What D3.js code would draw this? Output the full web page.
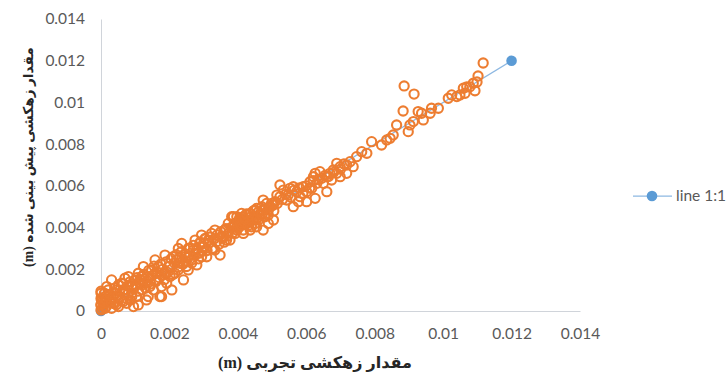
<!DOCTYPE html>
<html>
<head>
<meta charset="utf-8">
<script src="https://cdn.jsdelivr.net/npm/d3@7"></script>
<style>
  html, body { margin: 0; padding: 0; background: #ffffff; }
  svg { display: block; }
</style>
</head>
<body>
<svg id="chart" width="728" height="373"></svg>
<script>
// ---------------- data ----------------
const xTickValues = [0, 0.002, 0.004, 0.006, 0.008, 0.01, 0.012, 0.014];
const xTickLabels = ["0", "0.002", "0.004", "0.006", "0.008", "0.01", "0.012", "0.014"];
const yTickValues = [0, 0.002, 0.004, 0.006, 0.008, 0.01, 0.012, 0.014];
const yTickLabels = ["0", "0.002", "0.004", "0.006", "0.008", "0.01", "0.012", "0.014"];

const xTitle = "مقدار زهکشی تجربی (m)";
const yTitle = "مقدار زهکشی پیش بینی شده (m)";
const legendLabel = "line 1:1";

// 1:1 reference line
const lineX = [0, 0.012];
const lineY = [0, 0.012];

// measured (experimental) vs predicted drainage, m
const measured = [
  0.01117, 0.00886, 0.00915, 0.00883, 0.01102, 0.01099, 0.01088, 0.01078, 0.01069, 0.01059,
  0.01093, 0.01064, 0.01049, 0.01040, 0.01025, 0.01015, 0.00986, 0.00966, 0.00962, 0.00937,
  0.00927, 0.00942, 0.00913, 0.00903, 0.00898, 0.00864, 0.00854, 0.00845, 0.00835, 0.00820,
  0.00791, 0.00777, 0.00762,
  0.00747, 0.00728, 0.00718, 0.00699, 0.00689, 0.00679, 0.00669, 0.00660, 0.00640, 0.00626,
  0.00621, 0.00611, 0.00660, 0.00626, 0.00601, 0.00582, 0.00572, 0.00552, 0.00533, 0.00523,
  0.00509, 0.00494, 0.00474, 0.00465, 0.00445, 0.00426, 0.00406, 0.00397, 0.00387, 0.00416,
  0.00436, 0.00455, 0.00484, 0.00504, 0.00543, 0.00562, 0.00436, 0.00455, 0.00416, 0.00591,
  0.00631, 0.00650, 0.00699, 0.00718, 0.00737, 0.00562, 0.00616, 0.00523, 0.00674, 0.00689,
  0.00645, 0.00601, 0.00577, 0.00547, 0.00514, 0.00474, 0.00489, 0.00451, 0.00397, 0.00387,
  0.00436,
  0.00000, 0.00002, 0.00007, 0.00000, 0.00012, 0.00021, 0.00026, 0.00036, 0.00041, 0.00051,
  0.00056, 0.00065, 0.00070, 0.00075, 0.00080, 0.00090, 0.00095, 0.00099, 0.00104, 0.00109,
  0.00119, 0.00124, 0.00129, 0.00133, 0.00138, 0.00148, 0.00153, 0.00158, 0.00163, 0.00168,
  0.00172, 0.00177, 0.00187, 0.00192, 0.00197, 0.00207, 0.00211, 0.00216, 0.00226, 0.00231,
  0.00236, 0.00241, 0.00246, 0.00255, 0.00260, 0.00265, 0.00275, 0.00280, 0.00284, 0.00294,
  0.00299, 0.00309, 0.00314, 0.00323, 0.00328, 0.00338, 0.00348, 0.00353, 0.00362, 0.00372,
  0.00377, 0.00382, 0.00392, 0.00401, 0.00411, 0.00416, 0.00426, 0.00431, 0.00440, 0.00450,
  0.00460, 0.00470, 0.00474, 0.00479, 0.00489, 0.00499, 0.00504,
  0.00017, 0.00031, 0.00046, 0.00060, 0.00080, 0.00085, 0.00114, 0.00143, 0.00177, 0.00202,
  0.00221, 0.00250, 0.00270, 0.00289, 0.00304, 0.00333, 0.00367, 0.00397, 0.00436, 0.00465,
  0.00000, 0.00000, 0.00012, 0.00031, 0.00051, 0.00065, 0.00109, 0.00138, 0.00177,
  0.00187, 0.00226, 0.00255, 0.00294, 0.00333, 0.00372, 0.00411, 0.00450, 0.00489, 0.00119,
  0.00158, 0.00090, 0.00041,
  0.00000, 0.00000, 0.00005, 0.00010, 0.00020, 0.00015,
  0.00005, 0.00010, 0.00015, 0.00025, 0.00030, 0.00035, 0.00040, 0.00045, 0.00050, 0.00055,
  0.00060, 0.00065, 0.00070, 0.00075, 0.00080, 0.00085, 0.00090, 0.00095, 0.00100, 0.00105,
  0.00110, 0.00115, 0.00120, 0.00125, 0.00130, 0.00135, 0.00140, 0.00145, 0.00150, 0.00155,
  0.00160, 0.00165, 0.00170, 0.00175, 0.00180, 0.00185, 0.00190, 0.00195, 0.00200, 0.00205,
  0.00210, 0.00215, 0.00220, 0.00225, 0.00230, 0.00235, 0.00240, 0.00245, 0.00250, 0.00255,
  0.00260, 0.00265, 0.00270, 0.00275, 0.00280, 0.00285, 0.00290, 0.00295, 0.00300, 0.00305,
  0.00310, 0.00315, 0.00320, 0.00325, 0.00330, 0.00340, 0.00345, 0.00350, 0.00355, 0.00360,
  0.00365, 0.00370, 0.00380, 0.00385, 0.00390, 0.00400, 0.00405, 0.00410, 0.00420, 0.00425,
  0.00430, 0.00440, 0.00445, 0.00455, 0.00460, 0.00470, 0.00480, 0.00485, 0.00495, 0.00505,
  0.00515, 0.00530, 0.00540, 0.00555, 0.00565, 0.00580, 0.00590, 0.00600, 0.00610, 0.00620,
  0.00635, 0.00655, 0.00665, 0.00680, 0.00700, 0.00710
];
const predicted = [
  0.01189, 0.01079, 0.01040, 0.00959, 0.01127, 0.01098, 0.01092, 0.01075, 0.01075, 0.01068,
  0.01056, 0.01044, 0.01036, 0.01028, 0.01036, 0.01020, 0.00972, 0.00972, 0.00948, 0.00948,
  0.00956, 0.00916, 0.00908, 0.00892, 0.00860, 0.00892, 0.00844, 0.00828, 0.00820, 0.00796,
  0.00812, 0.00756, 0.00764,
  0.00740, 0.00716, 0.00700, 0.00692, 0.00708, 0.00676, 0.00660, 0.00644, 0.00668, 0.00660,
  0.00644, 0.00620, 0.00572, 0.00540, 0.00524, 0.00548, 0.00572, 0.00588, 0.00580, 0.00548,
  0.00524, 0.00500, 0.00484, 0.00460, 0.00436, 0.00420, 0.00436, 0.00388, 0.00452, 0.00452,
  0.00468, 0.00492, 0.00516, 0.00508, 0.00532, 0.00500, 0.00388, 0.00404, 0.00372, 0.00596,
  0.00612, 0.00612, 0.00644, 0.00660, 0.00692, 0.00596, 0.00588, 0.00604, 0.00628, 0.00660,
  0.00636, 0.00572, 0.00524, 0.00556, 0.00556, 0.00532, 0.00460, 0.00452, 0.00452, 0.00404,
  0.00428,
  0.00085, 0.00053, 0.00021, 0.00029, 0.00069, 0.00101, 0.00053, 0.00037, 0.00085, 0.00125,
  0.00069, 0.00101, 0.00157, 0.00037, 0.00085, 0.00117, 0.00021, 0.00149, 0.00069, 0.00181,
  0.00101, 0.00213, 0.00133, 0.00053, 0.00165, 0.00197, 0.00101, 0.00245, 0.00149, 0.00213,
  0.00069, 0.00173, 0.00268, 0.00133, 0.00213, 0.00101, 0.00260, 0.00181, 0.00300, 0.00229,
  0.00324, 0.00149, 0.00260, 0.00197, 0.00300, 0.00245, 0.00340, 0.00221, 0.00276, 0.00364,
  0.00308, 0.00260, 0.00340, 0.00372, 0.00300, 0.00332, 0.00268, 0.00356, 0.00388, 0.00420,
  0.00340, 0.00452, 0.00372, 0.00428, 0.00468, 0.00388, 0.00420, 0.00460, 0.00404, 0.00484,
  0.00436, 0.00500, 0.00388, 0.00452, 0.00484, 0.00516, 0.00436,
  0.00117, 0.00149, 0.00101, 0.00133, 0.00165, 0.00053, 0.00133, 0.00117, 0.00117, 0.00165,
  0.00245, 0.00213, 0.00292, 0.00324, 0.00348, 0.00388, 0.00340, 0.00404, 0.00436, 0.00468,
  0.00095, 0.00005, 0.00013, 0.00013, 0.00021, 0.00045, 0.00029, 0.00069, 0.00069,
  0.00181, 0.00197, 0.00260, 0.00260, 0.00292, 0.00372, 0.00420, 0.00420, 0.00420, 0.00165,
  0.00181, 0.00085, 0.00037,
  0.00060, 0.00030, 0.00010, 0.00040, 0.00070, 0.00020,
  0.00045, 0.00085, 0.00055, 0.00080, 0.00040, 0.00065, 0.00110, 0.00030, 0.00075, 0.00100,
  0.00050, 0.00130, 0.00085, 0.00060, 0.00120, 0.00140, 0.00070, 0.00105, 0.00125, 0.00160,
  0.00095, 0.00150, 0.00125, 0.00175, 0.00110, 0.00145, 0.00195, 0.00130, 0.00170, 0.00215,
  0.00140, 0.00185, 0.00160, 0.00225, 0.00200, 0.00150, 0.00235, 0.00185, 0.00215, 0.00250,
  0.00175, 0.00230, 0.00270, 0.00210, 0.00255, 0.00285, 0.00225, 0.00275, 0.00240, 0.00300,
  0.00265, 0.00230, 0.00315, 0.00275, 0.00300, 0.00250, 0.00330, 0.00285, 0.00310, 0.00345,
  0.00290, 0.00325, 0.00355, 0.00300, 0.00345, 0.00365, 0.00320, 0.00380, 0.00350, 0.00330,
  0.00395, 0.00360, 0.00400, 0.00375, 0.00420, 0.00395, 0.00445, 0.00410, 0.00440, 0.00465,
  0.00410, 0.00455, 0.00480, 0.00440, 0.00475, 0.00460, 0.00490, 0.00470, 0.00500, 0.00480,
  0.00515, 0.00535, 0.00560, 0.00545, 0.00580, 0.00590, 0.00565, 0.00600, 0.00590, 0.00625,
  0.00630, 0.00650, 0.00645, 0.00665, 0.00680, 0.00705
];

// ---------------- drawing ----------------
const svg = d3.select("#chart");
const plot = { left: 101, right: 580, top: 19, bottom: 311 };

const x = d3.scaleLinear().domain([0, 0.014]).range([plot.left, plot.right]);
const y = d3.scaleLinear().domain([0, 0.014]).range([plot.bottom, plot.top]);

const tickFont = "Lato, 'Open Sans', sans-serif";
const axisColor = "#D0D4DA";
const textColor = "#595959";

// X axis
const gx = svg.append("g")
  .attr("transform", `translate(0,${plot.bottom})`)
  .call(d3.axisBottom(x).tickValues(xTickValues)
    .tickFormat((d, i) => xTickLabels[i]).tickSize(0).tickPadding(17));
gx.select(".domain").attr("stroke", axisColor).attr("stroke-width", 1);
gx.selectAll("text").attr("fill", textColor).style("font-family", tickFont).style("font-size", "15.5px");

// Y axis
const gy = svg.append("g")
  .attr("transform", `translate(${plot.left},0)`)
  .call(d3.axisLeft(y).tickValues(yTickValues)
    .tickFormat((d, i) => yTickLabels[i]).tickSize(0).tickPadding(16));
gy.select(".domain").attr("stroke", axisColor).attr("stroke-width", 1);
gy.selectAll("text").attr("fill", textColor).style("font-family", tickFont).style("font-size", "15.5px");

// 1:1 line series
const linePts = lineX.map((v, i) => [v, lineY[i]]);
svg.append("path")
  .datum(linePts)
  .attr("d", d3.line().x(d => x(d[0])).y(d => y(d[1])))
  .attr("fill", "none")
  .attr("stroke", "#8DB8E2")
  .attr("stroke-width", 1.25);
svg.append("g").selectAll("circle")
  .data(linePts)
  .join("circle")
  .attr("cx", d => x(d[0]))
  .attr("cy", d => y(d[1]))
  .attr("r", 5.3)
  .attr("fill", "#5B9BD5");

// observed vs predicted scatter
const pts = measured.map((v, i) => [v, predicted[i]]);
svg.append("g").selectAll("circle")
  .data(pts)
  .join("circle")
  .attr("cx", d => x(d[0]))
  .attr("cy", d => y(d[1]))
  .attr("r", 4.6)
  .attr("fill", "none")
  .attr("stroke", "#ED7D31")
  .attr("stroke-width", 2.1);

// Axis titles
const titleFont = "'Liberation Serif', 'DejaVu Sans', serif";
function fitText(sel, target) {
  const len = sel.node().getComputedTextLength();
  const fs = parseFloat(sel.style("font-size"));
  sel.style("font-size", (fs * target / len).toFixed(2) + "px");
}
const xt = svg.append("text")
  .attr("x", 315).attr("y", 368)
  .attr("text-anchor", "middle")
  .style("direction", "rtl")
  .style("font-family", titleFont)
  .style("font-weight", "bold")
  .style("font-size", "15px")
  .attr("fill", "#262626")
  .text(xTitle);
fitText(xt, 194);

const yt = svg.append("text")
  .attr("transform", "translate(33,157) rotate(-90)")
  .attr("text-anchor", "middle")
  .style("direction", "rtl")
  .style("font-family", titleFont)
  .style("font-weight", "bold")
  .style("font-size", "15px")
  .attr("fill", "#262626")
  .text(yTitle);
fitText(yt, 220);

// Legend
const lg = svg.append("g").attr("transform", "translate(0,196)");
lg.append("line").attr("x1", 633).attr("x2", 672).attr("y1", 0).attr("y2", 0)
  .attr("stroke", "#8DB8E2").attr("stroke-width", 1.25);
lg.append("circle").attr("cx", 652).attr("cy", 0).attr("r", 5.3).attr("fill", "#5B9BD5");
lg.append("text").attr("x", 676).attr("y", 0).attr("dy", "0.35em")
  .attr("fill", textColor).style("font-family", tickFont).style("font-size", "15.5px")
  .text(legendLabel);
</script>
</body>
</html>
